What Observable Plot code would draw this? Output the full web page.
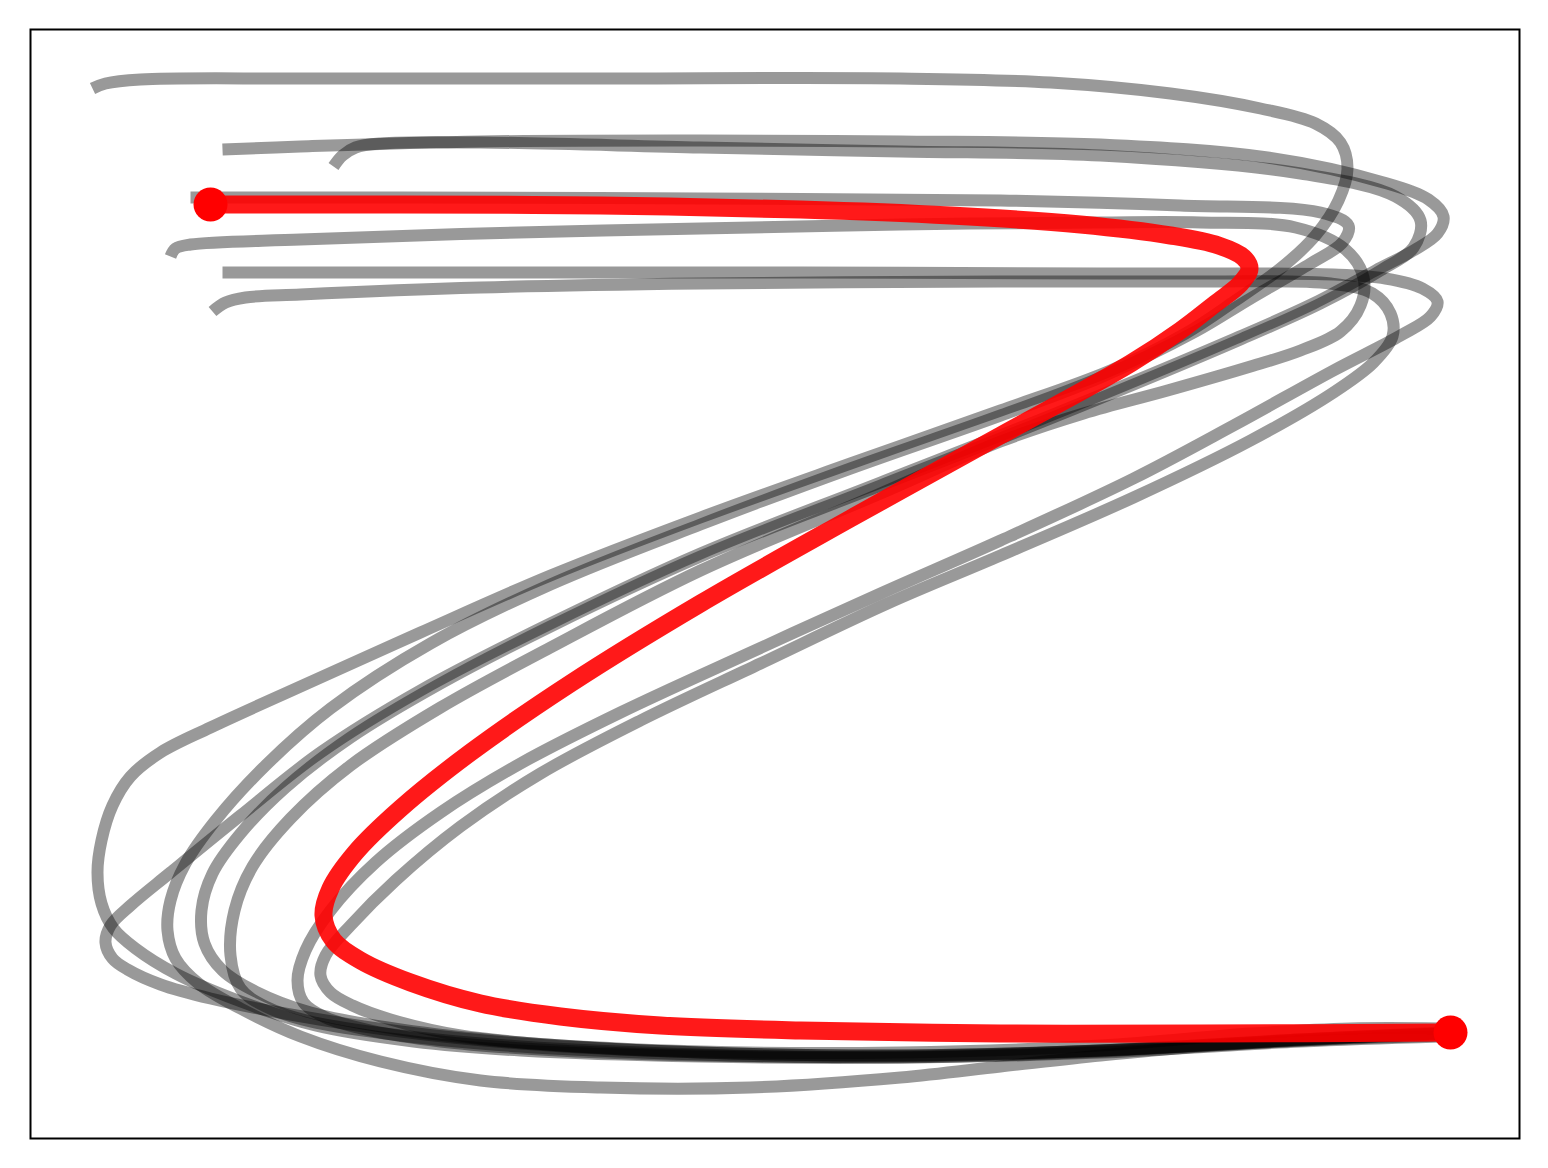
<!DOCTYPE html>
<html>
<head>
<meta charset="utf-8">
<script src="https://cdn.jsdelivr.net/npm/d3@7"></script>
<script src="https://cdn.jsdelivr.net/npm/@observablehq/plot@0.6"></script>
<style>
  html, body { margin: 0; padding: 0; background: #fff; }
  #chart svg { display: block; }
</style>
</head>
<body>
<div id="chart"></div>
<script>
// Pen strokes of a handwritten "Z" (canvas coordinates, y grows downward)
const strokeA = [[92,88],[105,83],[140,79],[300,78],[600,78],[900,78],[1050,82],[1170,93],[1260,108],[1315,123],[1340,142],[1347,168],[1338,200],[1315,235],[1280,268],[1235,300],[1185,333],[1110,370],[1000,410],[850,463],[700,517],[550,575],[420,632],[300,686],[210,727],[160,752],[130,776],[112,805],[101,840],[97,872],[101,903],[113,928],[135,948],[175,973],[235,999],[315,1025],[413,1041],[520,1050],[700,1056],[900,1057],[1100,1051],[1300,1039],[1440,1032]];
const strokeB = [[222,149],[300,146],[480,141],[700,140],[900,141],[1100,144],[1267,157],[1383,182],[1428,199],[1443,216],[1437,233],[1413,250],[1375,270],[1313,303],[1230,340],[1050,415],[880,482],[700,553],[550,623],[420,690],[320,752],[240,815],[170,872],[130,905],[110,925],[105,942],[112,958],[127,969],[160,984],[210,998],[290,1014],[400,1031],[520,1043],[700,1052],[900,1055],[1100,1050],[1300,1039],[1440,1033]];
const strokeC = [[333,166],[342,155],[355,147],[380,143],[480,142],[700,147],[900,151],[1100,155],[1300,173],[1395,196],[1420,220],[1413,247],[1380,270],[1320,303],[1240,339],[1050,418],[880,485],[700,556],[550,626],[440,683],[350,737],[285,787],[240,833],[212,873],[201,910],[204,943],[222,970],[255,991],[310,1012],[400,1029],[520,1042],[700,1051],[900,1052],[1100,1045],[1250,1033],[1350,1028],[1440,1028]];
const strokeD = [[190,197],[400,197],[700,198],[1000,200],[1180,205],[1320,212],[1348,225],[1342,242],[1310,263],[1250,298],[1195,331],[1100,377],[1000,415],[850,468],[700,524],[550,584],[430,643],[330,708],[265,765],[215,820],[185,863],[170,900],[167,930],[175,958],[198,983],[240,1008],[300,1036],[380,1061],[480,1080],[600,1087],[750,1087],[900,1077],[1000,1066],[1100,1055],[1200,1046],[1300,1040],[1440,1035]];
const strokeE = [[170,256],[175,248],[190,244],[300,239],[480,233],[700,228],[900,224],[1100,222],[1200,222],[1295,227],[1345,249],[1363,277],[1360,305],[1340,331],[1300,350],[1250,366],[1167,390],[1083,413],[1000,441],[880,493],[700,570],[550,647],[440,707],[350,765],[290,818],[252,866],[234,910],[230,955],[240,988],[265,1006],[310,1021],[400,1035],[520,1046],[700,1054],[900,1057],[1100,1052],[1300,1041],[1440,1036]];
const strokeF = [[222,272],[500,272],[800,272],[1100,273],[1333,274],[1385,278],[1422,288],[1437,301],[1430,316],[1400,335],[1333,370],[1233,425],[1133,478],[1000,540],[880,593],[750,652],[620,712],[520,763],[440,812],[375,862],[330,910],[305,950],[297,980],[303,1002],[325,1017],[370,1030],[440,1041],[540,1049],[700,1055],[900,1056],[1100,1050],[1300,1039],[1440,1033]];
const strokeG = [[212,311],[225,302],[245,297],[300,294],[480,287],[700,283],[1000,281],[1200,281],[1330,283],[1372,293],[1390,313],[1392,336],[1373,362],[1333,392],[1250,440],[1133,497],[1000,555],[887,603],[760,663],[640,720],[540,773],[460,826],[395,880],[350,925],[325,955],[320,975],[330,992],[352,1005],[390,1019],[460,1035],[560,1045],[700,1052],[900,1055],[1100,1050],[1300,1040],[1440,1033]];
// Highlighted stroke
const strokeRed = [[210,204],[400,204],[600,205],[800,209],[950,215],[1080,224],[1170,235],[1218,245],[1243,257],[1249,268],[1240,283],[1215,303],[1180,330],[1130,363],[1000,435],[850,518],[700,603],[570,683],[470,752],[400,808],[355,852],[330,888],[323,915],[333,940],[360,960],[410,982],[480,1003],[560,1016],[660,1025],[800,1030],[1000,1033],[1200,1033],[1450,1032]];

const grayStrokes = [strokeA, strokeB, strokeC, strokeD, strokeE, strokeF, strokeG];
const grayRows = grayStrokes.flatMap((s, i) => s.map(([x, y]) => ({x, y, id: i})));
const redRows = strokeRed.map(([x, y]) => ({x, y}));
const redEnds = [redRows[0], redRows[redRows.length - 1]];

const chart = Plot.plot({
  width: 1548,
  height: 1168,
  marginTop: 29,
  marginRight: 29,
  marginBottom: 30,
  marginLeft: 30,
  x: {domain: [30, 1519], axis: null},
  y: {domain: [29, 1138], reverse: true, axis: null},
  marks: [
    Plot.line(grayRows, {x: "x", y: "y", z: "id", curve: "catmull-rom", stroke: "black", strokeOpacity: 0.4, strokeWidth: 12, strokeLinecap: "butt", strokeLinejoin: "round"}),
    Plot.line(redRows, {x: "x", y: "y", curve: "catmull-rom", stroke: "red", strokeOpacity: 0.9, strokeWidth: 18, strokeLinecap: "butt", strokeLinejoin: "round"}),
    Plot.dot(redEnds, {x: "x", y: "y", r: 17, fill: "red", stroke: "none"}),
    Plot.frame({stroke: "black", strokeWidth: 2})
  ]
});
document.getElementById("chart").appendChild(chart);
</script>
</body>
</html>
